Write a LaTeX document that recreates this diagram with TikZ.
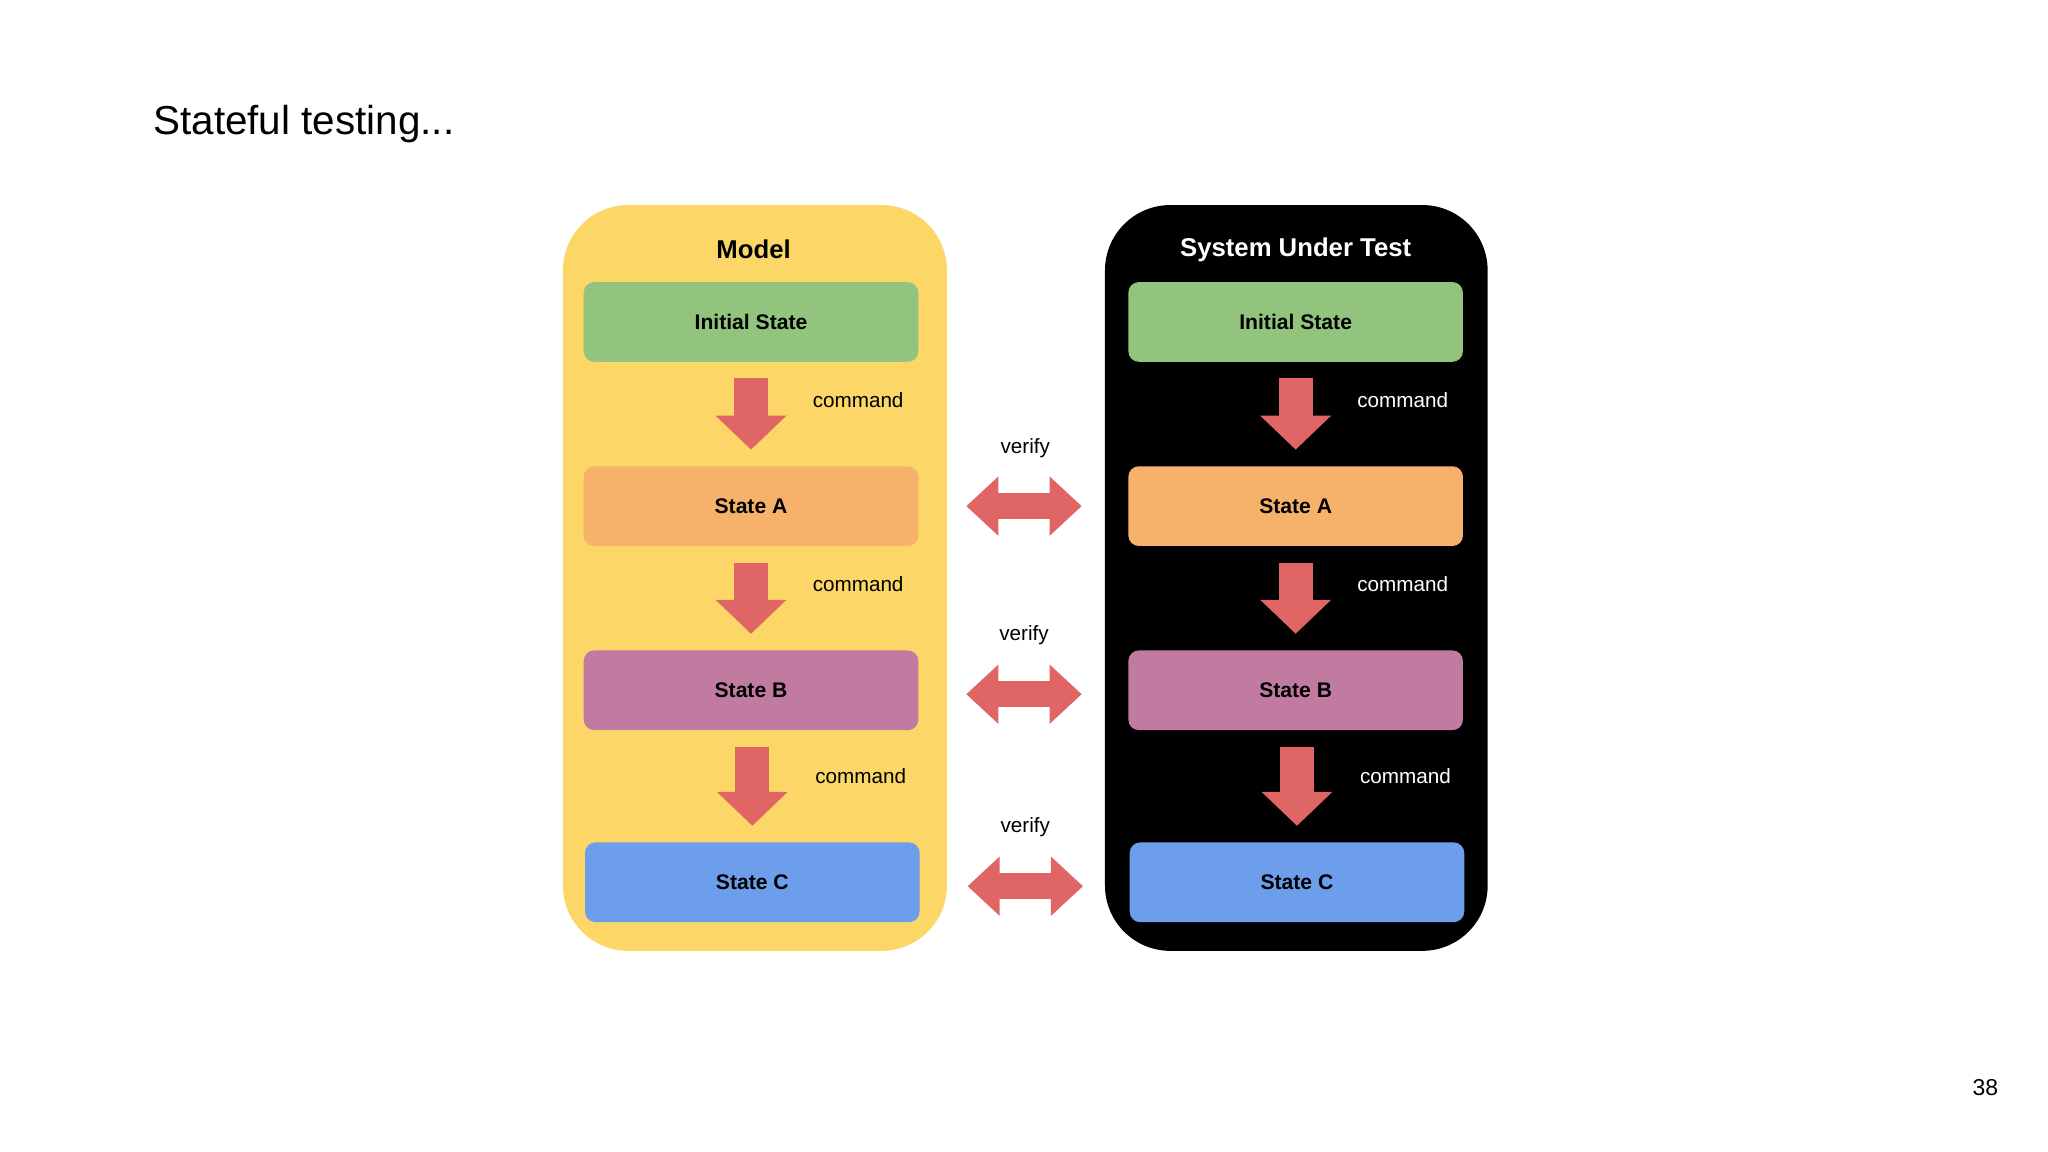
\documentclass[tikz,border=0pt]{standalone}
\usepackage{fontspec}
\setmainfont{Liberation Sans}
\usetikzlibrary{arrows.meta}
\definecolor{ylw}{HTML}{FCD667}
\definecolor{grn}{HTML}{93C47D}
\definecolor{org}{HTML}{F6B26B}
\definecolor{pur}{HTML}{C27BA0}
\definecolor{blu}{HTML}{6D9EEB}
\definecolor{red}{HTML}{E06666}
\begin{document}
\begin{tikzpicture}[x=0.01cm,y=-0.01cm,
  box/.style={rounded corners=0.08cm,minimum width=2.56cm,minimum height=0.61cm,inner sep=0pt,font=\fontsize{4.6}{5}\selectfont\bfseries},
  down/.style={draw=red,line width=7.4pt,-{Triangle[width=15pt,length=7.4pt]},shorten <=0.12cm,shorten >=0.12cm},
  both/.style={draw=red,line width=5.6pt,{Triangle[width=12.5pt,length=7pt]}-{Triangle[width=12.5pt,length=7pt]},shorten <=0.36cm,shorten >=0.35cm},
  lbl/.style={font=\fontsize{4.5}{5}\selectfont}]
\useasboundingbox (0,0) rectangle (1568,882);
\fill[white] (0,0) rectangle (1568,882);
\node[anchor=west,font=\fontsize{8.8}{10}\selectfont] (title) at (105,95) {Stateful testing...};
\node[font=\fontsize{5}{6}\selectfont] (pg) at (1520,833) {38};
\fill[ylw,rounded corners=0.5cm] (431,157) rectangle (725,728);
\fill[black,rounded corners=0.5cm] (846,157) rectangle (1139,728);
\node[font=\fontsize{5.6}{6}\selectfont\bfseries] (mt) at (577,191) {Model};
\node[white,font=\fontsize{5.6}{6}\selectfont\bfseries] (st) at (992,191) {System Under Test};
% left
\node[box,fill=grn] (li) at (575,246.5) {Initial State};
\node[box,fill=org] (la) at (575,387.5) {State A};
\node[box,fill=pur] (lb) at (575,528.5) {State B};
\node[box,fill=blu] (lc) at (576,675.5) {State C};
% right
\node[box,fill=grn] (ri) at (992,246.5) {Initial State};
\node[box,fill=org] (ra) at (992,387.5) {State A};
\node[box,fill=pur] (rb) at (992,528.5) {State B};
\node[box,fill=blu] (rc) at (993,675.5) {State C};
\draw[down] (li) -- (la);
\draw[down] (la) -- (lb);
\draw[down] ([xshift=0.01cm]lb.south) -- (lc);
\draw[down] (ri) -- (ra);
\draw[down] (ra) -- (rb);
\draw[down] ([xshift=0.01cm]rb.south) -- (rc);
\node[lbl] (c1) at (657,306) {command};
\node[lbl] (c2) at (657,447) {command};
\node[lbl] (c3) at (659,594) {command};
\node[lbl,white] (c4) at (1074,306) {command};
\node[lbl,white] (c5) at (1074,447) {command};
\node[lbl,white] (c6) at (1076,594) {command};
\draw[both] (la) -- (ra);
\draw[both] ([yshift=-0.03cm]lb.east) -- ([yshift=-0.03cm]rb.west);
\draw[both] ([yshift=-0.03cm]lc.east) -- ([yshift=-0.03cm]rc.west);
\node[lbl] (v1) at (785,343) {verify};
\node[lbl] (v2) at (784,486) {verify};
\node[lbl] (v3) at (785,633) {verify};
\end{tikzpicture}
\end{document}
